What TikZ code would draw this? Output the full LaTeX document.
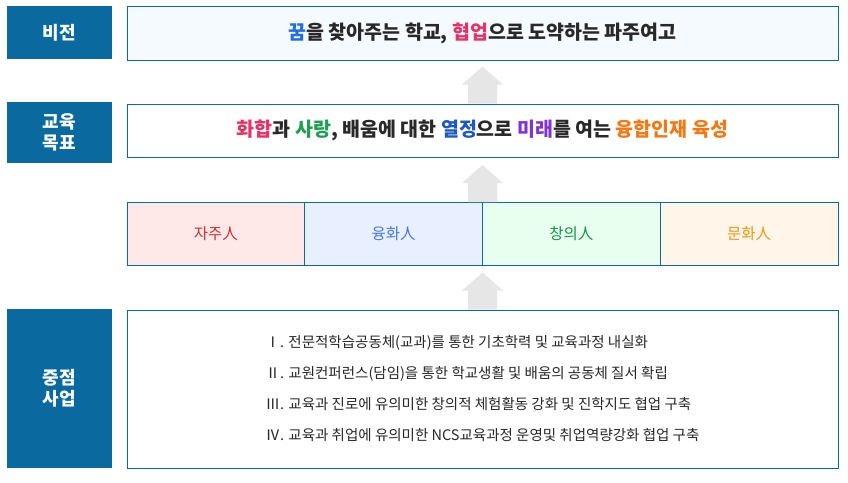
\documentclass[tikz,border=0pt]{standalone}
\usepackage{fontspec}
\setmainfont{Noto Sans CJK KR}
\usetikzlibrary{positioning,calc}
\definecolor{headblue}{RGB}{10,106,160}
\definecolor{visfill}{RGB}{245,250,255}
\definecolor{arrowgray}{RGB}{230,230,230}
\definecolor{darktext}{RGB}{40,40,40}
\definecolor{dreamblue}{RGB}{30,110,230}
\definecolor{hotpink}{RGB}{230,50,100}
\definecolor{lovegreen}{RGB}{30,160,80}
\definecolor{passblue}{RGB}{30,90,190}
\definecolor{futpurple}{RGB}{130,50,210}
\definecolor{fuseorange}{RGB}{245,120,20}
\definecolor{jajufill}{RGB}{255,232,232}
\definecolor{yungfill}{RGB}{232,240,255}
\definecolor{changfill}{RGB}{232,255,240}
\definecolor{munfill}{RGB}{255,245,232}
\definecolor{jajutext}{RGB}{215,45,50}
\definecolor{yungtext}{RGB}{70,120,220}
\definecolor{changtext}{RGB}{20,150,70}
\definecolor{muntext}{RGB}{245,150,20}

\begin{document}
\begin{tikzpicture}[x=1pt,y=-1pt,
   headbox/.style={fill=headblue,text=white,minimum width=105pt,inner sep=0pt,
     align=center,font=\bfseries\fontsize{18}{21}\selectfont},
   mainbox/.style={draw=headblue,line width=1pt,minimum width=711pt,inner sep=0pt,
     text=darktext},
   valbox/.style={draw=headblue,line width=0.8pt,minimum width=177.75pt,
     minimum height=63pt,inner sep=0pt,outer sep=0pt,font=\fontsize{15.5}{18}\selectfont},
   upfill/.style={fill=arrowgray}]
   \useasboundingbox (0,0) rectangle (848,482);

   % left headings
   \node[headbox,minimum height=53pt] (hvis) at (59.5,32.5) {비전};
   \node[headbox,minimum height=61pt] (hgoal) at (59.5,132.5) {교육\\목표};
   \node[headbox,minimum height=159pt] (hkey) at (59.5,388.5) {중점\\사업};

   % vision and goal
   \node[mainbox,fill=visfill,minimum height=54pt,font=\bfseries\fontsize{19.5}{22}\selectfont]
     (vis) at (482.5,33) {{\color{dreamblue}꿈}을 찾아주는 학교, {\color{hotpink}협업}으로 도약하는 파주여고};
   \node[mainbox,fill=white,minimum height=53pt,font=\bfseries\fontsize{19.5}{22}\selectfont]
     (goal) at (482.5,130.5) {{\color{hotpink}화합}과 {\color{lovegreen}사랑}, 배움에 대한 {\color{passblue}열정}으로 {\color{futpurple}미래}를 여는 {\color{fuseorange}융합인재 육성}};

   % four values
   \node[valbox,fill=jajufill,text=jajutext,anchor=north west] (jaju) at (127,202) {자주人};
   \node[valbox,fill=yungfill,text=yungtext,right=0pt of jaju] (yung) {융화人};
   \node[valbox,fill=changfill,text=changtext,right=0pt of yung] (chang) {창의人};
   \node[valbox,fill=munfill,text=muntext,right=0pt of chang] (mun) {문화人};

   % key projects
   \node[mainbox,fill=white,minimum height=158pt,align=left,
     font=\fontsize{14.5}{31}\selectfont] (keys) at (482.5,389)
     {Ⅰ. 전문적학습공동체(교과)를 통한 기초학력 및 교육과정 내실화\\
      Ⅱ. 교원컨퍼런스(담임)을 통한 학교생활 및 배움의 공동체 질서 확립\\
      Ⅲ. 교육과 진로에 유의미한 창의적 체험활동 강화 및 진학지도 협업 구축\\
      Ⅳ. 교육과 취업에 유의미한 NCS교육과정 운영및 취업역량강화 협업 구축};

   % block arrows
   \foreach \a in {goal.north,yung.north east,keys.north}
     \fill[upfill] (\a) ++(-14.5,0) -- ++(0,-19) -- ++(-6,0) -- ++(20.5,-18)
       -- ++(20.5,18) -- ++(-6,0) -- ++(0,19) -- cycle;
\end{tikzpicture}
\end{document}
